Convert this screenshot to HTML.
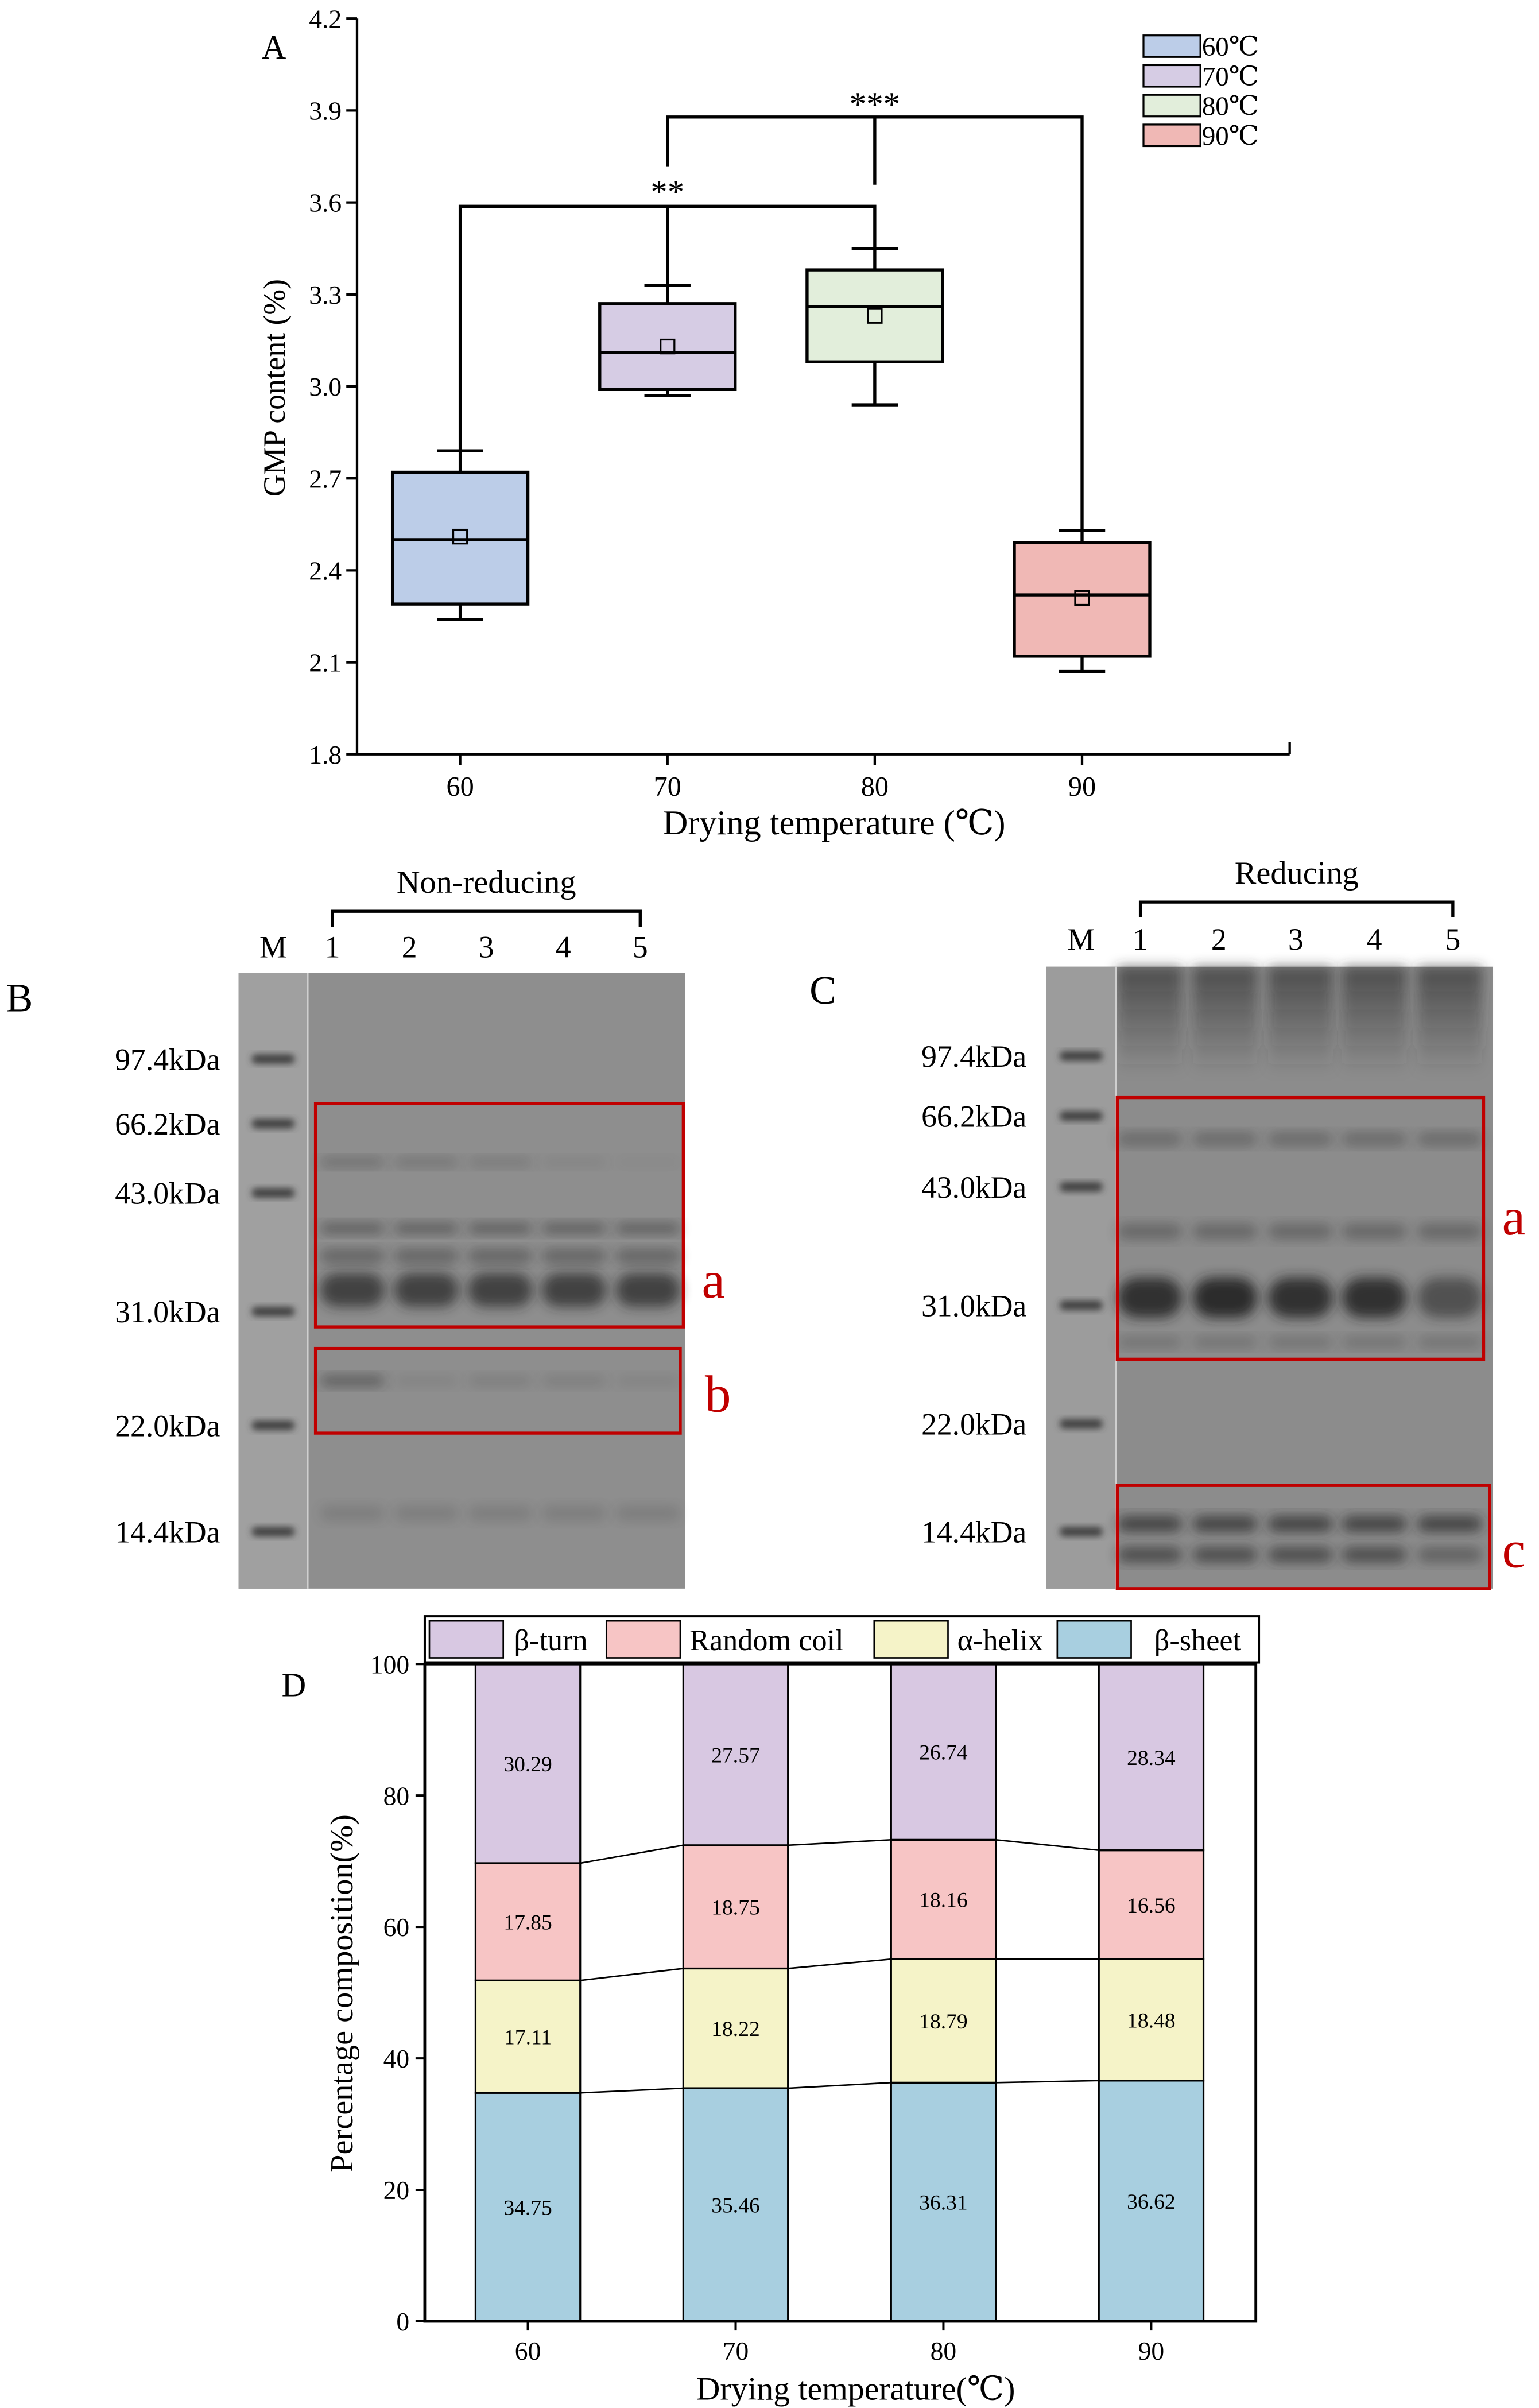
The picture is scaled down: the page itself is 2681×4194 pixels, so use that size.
<!DOCTYPE html>
<html><head><meta charset="utf-8"><style>
html,body{margin:0;padding:0;background:#fff;}
svg{display:block;font-family:"Liberation Serif","DejaVu Serif",serif;}
</style></head><body>
<svg id="fig" width="2681" height="4194" viewBox="0 0 1000 1564.3" xmlns="http://www.w3.org/2000/svg">
<defs>
<filter id="blur1" x="-20%" y="-50%" width="140%" height="200%"><feGaussianBlur stdDeviation="2.2"/></filter>
<filter id="blur2" x="-20%" y="-50%" width="140%" height="200%"><feGaussianBlur stdDeviation="4"/></filter>
<linearGradient id="topSmear" x1="0" y1="0" x2="0" y2="1"><stop offset="0" stop-color="#333" stop-opacity=".7"/><stop offset="1" stop-color="#333" stop-opacity="0"/></linearGradient>
</defs>
<g id="pA"></g>
<g id="pB"></g>
<g id="pC"></g>
<g id="pD"></g>
</svg>
<script>
// ---- Panel A data ----
const aCategories = ["60","70","80","90"];
const aWhiskerLow = [2.24, 2.97, 2.94, 2.07];
const aQ1 = [2.29, 2.99, 3.08, 2.12];
const aMedian = [2.50, 3.11, 3.26, 2.32];
const aQ3 = [2.72, 3.27, 3.38, 2.49];
const aWhiskerHigh = [2.79, 3.33, 3.45, 2.53];
const aMean = [2.51, 3.13, 3.23, 2.31];
const aYTicks = [1.8, 2.1, 2.4, 2.7, 3.0, 3.3, 3.6, 3.9, 4.2];
const aColors = ["#bccde8","#d6cce4","#e2eedb","#f0b8b5"];
const aLegend = ["60\u2103","70\u2103","80\u2103","90\u2103"];
// ---- Panel D data ----
const dCategories = ["60","70","80","90"];
const dSheet = [34.75, 35.46, 36.31, 36.62];
const dHelix = [17.11, 18.22, 18.79, 18.48];
const dCoil = [17.85, 18.75, 18.16, 16.56];
const dTurn = [30.29, 27.57, 26.74, 28.34];
const dYTicks = [0,20,40,60,80,100];
// ---- Gel data ----
const gelMarkers = ["97.4kDa","66.2kDa","43.0kDa","31.0kDa","22.0kDa","14.4kDa"];
const gelLanes = ["1","2","3","4","5"];

const NS="http://www.w3.org/2000/svg";
function mk(parent,tag,attrs,text){const e=document.createElementNS(NS,tag);for(const k in attrs)e.setAttribute(k,attrs[k]);if(text!==undefined)e.textContent=text;parent.appendChild(e);return e;}

// ===== Panel A =====
const A=document.getElementById('pA');
const ax0=232, ax1=838, ay0=490, ay1=12;
const yA=v=>ay0-(v-1.8)/(4.2-1.8)*(ay0-ay1);
const xA=i=>299+i*134.7;
let e;
e=mk(A,'line',{x1:ax0,y1:ay1,x2:ax0,y2:ay0,stroke:'#000','stroke-width':1.6});

e=mk(A,'line',{x1:ax0,y1:ay0,x2:ax1,y2:ay0,stroke:'#000','stroke-width':1.6});

mk(A,'line',{x1:ax1,y1:ay0,x2:ax1,y2:ay0-8,stroke:'#000','stroke-width':1.6});
aYTicks.forEach(t=>{mk(A,'line',{x1:ax0,y1:yA(t),x2:ax0-7,y2:yA(t),stroke:'#000','stroke-width':1.6});
 e=mk(A,'text',{x:ax0-10,y:yA(t)+6,'text-anchor':'end','font-size':17},t.toFixed(1));
 });
aCategories.forEach((c,i)=>{mk(A,'line',{x1:xA(i),y1:ay0,x2:xA(i),y2:ay0+7,stroke:'#000','stroke-width':1.6});
 e=mk(A,'text',{x:xA(i),y:ay0+27,'text-anchor':'middle','font-size':18},c);
 });
e=mk(A,'text',{x:542,y:542,'text-anchor':'middle','font-size':22.5},'Drying temperature (\u2103)');

e=mk(A,'text',{x:0,y:0,'text-anchor':'middle','font-size':20,transform:'translate(185,252) rotate(-90)'},'GMP content (%)');

e=mk(A,'text',{x:170,y:38,'font-size':22},'A');

aCategories.forEach((c,i)=>{
 const cx=xA(i), hw=44;
 const g=mk(A,'g',{});
 
 mk(g,'line',{x1:cx,y1:yA(aWhiskerLow[i]),x2:cx,y2:yA(aQ1[i]),stroke:'#000','stroke-width':2});
 mk(g,'line',{x1:cx,y1:yA(aWhiskerHigh[i]),x2:cx,y2:yA(aQ3[i]),stroke:'#000','stroke-width':2});
 mk(g,'line',{x1:cx-15,y1:yA(aWhiskerLow[i]),x2:cx+15,y2:yA(aWhiskerLow[i]),stroke:'#000','stroke-width':2});
 mk(g,'line',{x1:cx-15,y1:yA(aWhiskerHigh[i]),x2:cx+15,y2:yA(aWhiskerHigh[i]),stroke:'#000','stroke-width':2});
 mk(g,'rect',{x:cx-hw,y:yA(aQ3[i]),width:2*hw,height:yA(aQ1[i])-yA(aQ3[i]),fill:aColors[i],stroke:'#000','stroke-width':2});
 mk(g,'line',{x1:cx-hw,y1:yA(aMedian[i]),x2:cx+hw,y2:yA(aMedian[i]),stroke:'#000','stroke-width':2});
 mk(g,'rect',{x:cx-4.5,y:yA(aMean[i])-4.5,width:9,height:9,fill:'none',stroke:'#000','stroke-width':1.2});
});
const b1=134, b2=76;
const sig=mk(A,'g',{stroke:'#000','stroke-width':2,fill:'none'});

mk(sig,'polyline',{points:`${xA(0)},${yA(aWhiskerHigh[0])} ${xA(0)},${b1} ${xA(2)},${b1} ${xA(2)},${yA(aWhiskerHigh[2])}`});
mk(sig,'line',{x1:xA(1),y1:b1,x2:xA(1),y2:yA(aWhiskerHigh[1])});
mk(sig,'polyline',{points:`${xA(1)},${b2+32} ${xA(1)},${b2} ${xA(3)},${b2} ${xA(3)},${yA(aWhiskerHigh[3])}`});
mk(sig,'line',{x1:xA(2),y1:b2,x2:xA(2),y2:b1-14});
e=mk(A,'text',{x:xA(1),y:132,'text-anchor':'middle','font-size':22},'**');

e=mk(A,'text',{x:xA(2),y:75,'text-anchor':'middle','font-size':22},'***');

aLegend.forEach((l,i)=>{const g=mk(A,'g',{});
 
 mk(g,'rect',{x:743,y:23+i*19.3,width:37,height:14,fill:aColors[i],stroke:'#000','stroke-width':1.2});
 mk(g,'text',{x:781,y:36+i*19.3,'font-size':17.5},l);});

// ===== Gels =====
function gel(P,cfg){
 const g=mk(P,'g',{});
 
 mk(g,'rect',{x:cfg.x0,y:cfg.y0,width:cfg.x1-cfg.x0,height:cfg.y1-cfg.y0,fill:cfg.bg});
 if(cfg.smear){cfg.lanes.forEach(lx=>{mk(g,'rect',{x:lx-21,y:cfg.y0,width:42,height:70,fill:'url(#topSmear)',filter:'url(#blur2)'});});}
 mk(g,'rect',{x:cfg.x0,y:cfg.y0,width:cfg.mw,height:cfg.y1-cfg.y0,fill:cfg.mbg});
 mk(g,'line',{x1:cfg.x0+cfg.mw,y1:cfg.y0,x2:cfg.x0+cfg.mw,y2:cfg.y1,stroke:'#cfcfcf','stroke-width':1});
 const mx=cfg.x0+cfg.mw/2;
 gelMarkers.forEach((m,i)=>{const y=cfg.my[i];
  mk(g,'rect',{x:mx-14,y:y-3,width:28,height:6,rx:3,fill:'#3e3e3e',filter:'url(#blur1)'});
  e=mk(P,'text',{x:cfg.lx,y:y+7,'text-anchor':'end','font-size':20},m);
  });
 cfg.bands.forEach(b=>{cfg.lanes.forEach((lx,j)=>{
  const op=Array.isArray(b.op)?b.op[j]:b.op;
  mk(g,'rect',{x:lx-21,y:b.y-b.h/2,width:42,height:b.h,rx:b.h/2,fill:'#222',opacity:op,filter:'url(#blur2)'});});});
 gelLanes.forEach((l,j)=>{e=mk(P,'text',{x:cfg.labX[j],y:cfg.laneY,'text-anchor':'middle','font-size':20},l);
  });
 e=mk(P,'text',{x:mx,y:cfg.laneY,'text-anchor':'middle','font-size':20},'M');
 
 e=mk(P,'path',{d:`M${cfg.labX[0]} ${cfg.brY+10} V${cfg.brY} H${cfg.labX[4]} V${cfg.brY+10}`,stroke:'#000','stroke-width':2,fill:'none'});
 e=mk(P,'text',{x:(cfg.labX[0]+cfg.labX[4])/2,y:cfg.brY-12,'text-anchor':'middle','font-size':21},cfg.title);
 
 e=mk(P,'text',{x:cfg.px,y:cfg.py,'font-size':26},cfg.panel);
 
 cfg.boxes.forEach(bx=>{e=mk(P,'rect',{x:bx[0],y:bx[1],width:bx[2]-bx[0],height:bx[3]-bx[1],fill:'none',stroke:'#c00000','stroke-width':2});
  
  e=mk(P,'text',{x:bx[5],y:bx[6],'font-size':34,fill:'#c00000'},bx[4]);
  });
}
gel(document.getElementById('pB'),{x0:155,y0:632,x1:445,y1:1032,mw:45,bg:'#8e8e8e',mbg:'#a0a0a0',
 my:[688,730,775,852,926,995],lx:143,lanes:[229,277,325,373,421],labX:[216,266,316,366,416],laneY:622,brY:592,title:'Non-reducing',
 panel:'B',px:4,py:657,
 bands:[{y:755,h:6,op:[.3,.25,.2,.1,.05]},{y:798,h:7,op:.45},{y:816,h:9,op:.4},{y:838,h:22,op:.7},{y:897,h:7,op:[.45,.1,.15,.15,.1]},{y:983,h:10,op:.15}],
 boxes:[[205,717,444,862,'a',456,843],[205,876,442,931,'b',458,917]]});
gel(document.getElementById('pC'),{x0:680,y0:628,x1:970,y1:1032,mw:45,bg:'#8c8c8c',mbg:'#9c9c9c',smear:true,
 my:[686,725,771,848,925,995],lx:667,lanes:[747,796,845,893,942],labX:[741,792,842,893,944],laneY:617,brY:586,title:'Reducing',
 panel:'C',px:526,py:652,
 bands:[{y:740,h:8,op:.35},{y:800,h:10,op:.35},{y:843,h:26,op:[.85,.9,.85,.85,.55]},{y:872,h:7,op:.25},{y:990,h:10,op:.7},{y:1010,h:10,op:[.6,.6,.6,.6,.4]}],
 boxes:[[726,713,964,883,'a',976,802],[726,965,968,1032,'c',976,1018]]});

// ===== Panel D =====
const D=document.getElementById('pD');
const dx0=276,dx1=816,dy0=1508,dy1=1081;
const yD=v=>dy0-v/100*(dy0-dy1);
const xD=i=>343+i*135;
const bw=68;
const series=[{n:'\u03b2-sheet',v:dSheet,c:'#a8cfe0'},{n:'\u03b1-helix',v:dHelix,c:'#f5f3c8'},{n:'Random coil',v:dCoil,c:'#f7c5c5'},{n:'\u03b2-turn',v:dTurn,c:'#d8c8e2'}];
const cum=dCategories.map(()=>0);
const tops=[];
series.forEach((s,si)=>{const t=[];
 dCategories.forEach((c,i)=>{const b=cum[i], top=b+s.v[i];
  const r=mk(D,'rect',{x:xD(i)-bw/2,y:yD(Math.min(top,100)),width:bw,height:yD(b)-yD(Math.min(top,100)),fill:s.c,stroke:'#000','stroke-width':1.2});
  
  
  const tx=mk(D,'text',{x:xD(i),y:yD((b+Math.min(top,100))/2)+5,'text-anchor':'middle','font-size':14},s.v[i].toFixed(2));
  
  cum[i]=top;t.push(top);});
 tops.push(t);});
tops.slice(0,3).forEach(t=>{for(let i=0;i<t.length-1;i++){
 const l=mk(D,'line',{x1:xD(i)+bw/2,y1:yD(t[i]),x2:xD(i+1)-bw/2,y2:yD(t[i+1]),stroke:'#000','stroke-width':1});
 }});
e=mk(D,'rect',{x:dx0,y:dy1,width:dx1-dx0,height:dy0-dy1,fill:'none',stroke:'#000','stroke-width':1.8});

dYTicks.forEach(t=>{mk(D,'line',{x1:dx0,y1:yD(t),x2:dx0-6,y2:yD(t),stroke:'#000','stroke-width':1.5});
 e=mk(D,'text',{x:dx0-10,y:yD(t)+6,'text-anchor':'end','font-size':17},t);
 });
dCategories.forEach((c,i)=>{mk(D,'line',{x1:xD(i),y1:dy0,x2:xD(i),y2:dy0+6,stroke:'#000','stroke-width':1.5});
 e=mk(D,'text',{x:xD(i),y:dy0+25,'text-anchor':'middle','font-size':17},c);
 });
e=mk(D,'text',{x:556,y:1559,'text-anchor':'middle','font-size':21.5},'Drying temperature(\u2103)');

e=mk(D,'text',{x:0,y:0,'text-anchor':'middle','font-size':21,transform:'translate(229,1295) rotate(-90)'},'Percentage composition(%)');

e=mk(D,'text',{x:183,y:1102,'font-size':22},'D');

e=mk(D,'rect',{x:276,y:1050,width:542,height:30,fill:'#fff',stroke:'#000','stroke-width':1.5});

const legItems=[[279,'#d8c8e2','\u03b2-turn',334],[394,'#f7c5c5','Random coil',448],[568,'#f5f3c8','\u03b1-helix',622],[687,'#a8cfe0','\u03b2-sheet',750]];
legItems.forEach(L=>{const g=mk(D,'g',{});
 
 mk(g,'rect',{x:L[0],y:1053,width:48,height:24,fill:L[1],stroke:'#000','stroke-width':1});
 mk(g,'text',{x:L[3],y:1072,'font-size':19.5},L[2]);});
</script>
</body></html>
